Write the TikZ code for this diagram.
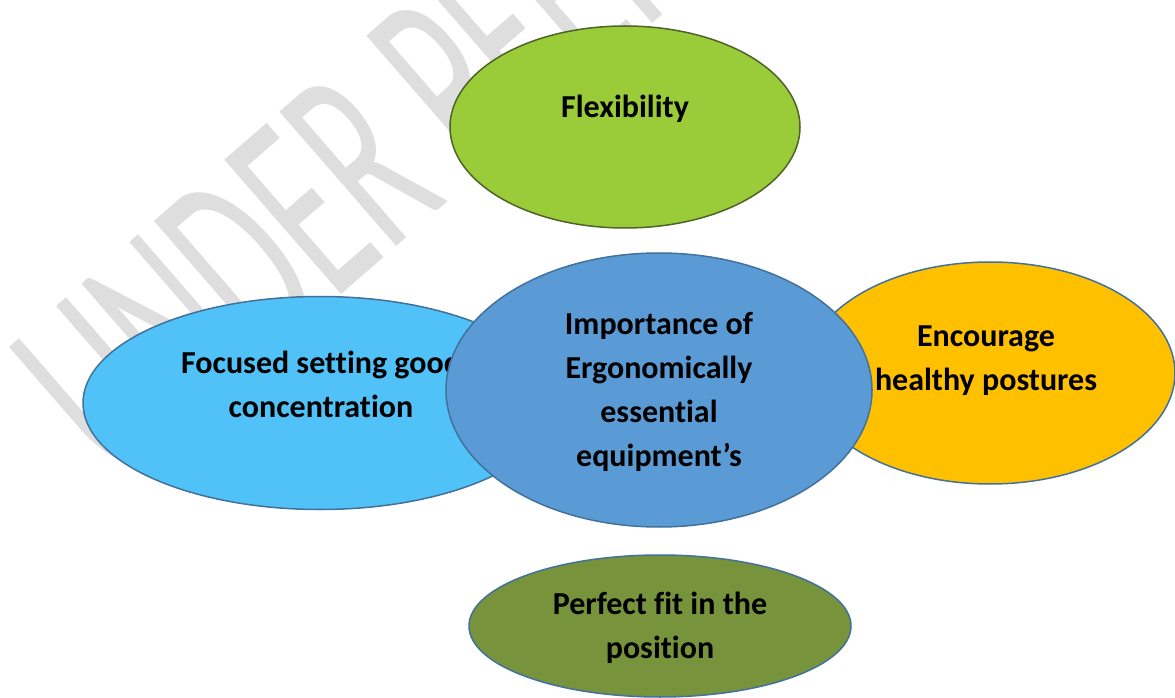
\documentclass[tikz,border=0pt]{standalone}
\usepackage{fontspec}
\setmainfont{Carlito}[Ligatures={NoCommon}]
\usetikzlibrary{shapes.geometric}
\definecolor{wmgray}{HTML}{DEDEDE}
\definecolor{flexfill}{HTML}{9ACB38}
\definecolor{flexline}{HTML}{4F6228}
\definecolor{leftfill}{HTML}{50C2F7}
\definecolor{bluefill}{HTML}{5B9BD5}
\definecolor{blueline}{HTML}{41719C}
\definecolor{orangefill}{HTML}{FFC000}
\definecolor{olivefill}{HTML}{77933C}
\tikzset{
  oval/.style={ellipse, draw=blueline, line width=1.5pt, inner sep=0pt},
  txt/.style={align=center, font=\fontsize{32}{44}\selectfont\bfseries, text=black},
  wm/.style={text=wmgray, font=\fontsize{150}{150}\selectfont, inner sep=0pt}
}
\begin{document}
\begin{tikzpicture}[x=1pt,y=1pt]
\clip (0,0) rectangle (1175,697);
\fill[white] (0,0) rectangle (1175,697);
% watermark
\node[wm, anchor=base west, rotate=41, yscale=1.85] (wmark) at (118,208) {UNDER PEER REVIEW};
% side ellipses
\node[oval, fill=leftfill, minimum width=474pt, minimum height=213pt] (left) at (320,294) {};
\node[txt] (leftT) at (321,312.5) {Focused setting good\\concentration};
\node[oval, fill=orangefill, minimum width=370pt, minimum height=222pt] (right) at (990,324) {};
\node[txt] (rightT) at (986,336.5) {Encourage\\healthy postures};
% centre
\node[oval, fill=bluefill, minimum width=426pt, minimum height=274pt] (center) at (659,307) {};
\node[txt] (centerT) at (659,305.5) {Importance of\\Ergonomically\\essential\\equipment’s};
% top
\node[oval, draw=flexline, fill=flexfill, minimum width=350pt, minimum height=202pt] (flex) at (625,570) {};
\node[txt] (flexT) at (625,588) {Flexibility};
% bottom
\node[oval, fill=olivefill, minimum width=382pt, minimum height=142pt] (bottom) at (660,71) {};
\node[txt] (bottomT) at (660,69.5) {Perfect fit in the\\position};
\end{tikzpicture}
\end{document}
